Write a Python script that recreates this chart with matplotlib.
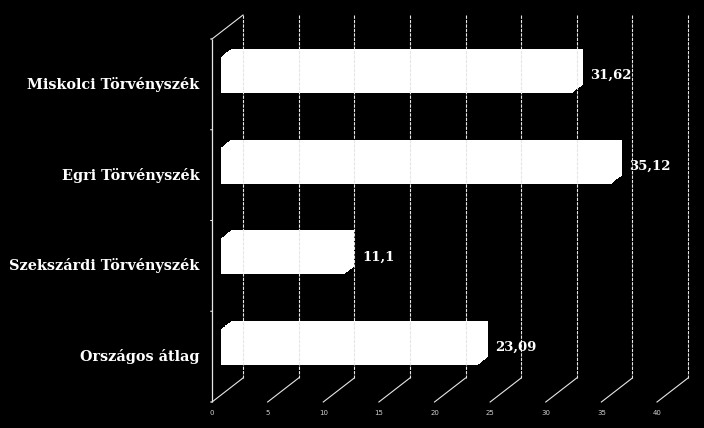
import numpy as np
import matplotlib
matplotlib.use('Agg')
import matplotlib.pyplot as plt
from matplotlib.transforms import ScaledTranslation

categories = ['Miskolci Törvényszék', 'Egri Törvényszék', 'Szekszárdi Törvényszék', 'Országos átlag']
values = [31.62, 35.12, 11.1, 23.09]
value_labels = ['31,62', '35,12', '11,1', '23,09']
ticks = [0, 5, 10, 15, 20, 25, 30, 35, 40]

W, H = 704, 428
fig = plt.figure(figsize=(W / 100, H / 100), dpi=100, facecolor='black')
# back wall of the 3d box
ax = fig.add_axes([243 / W, 1 - 378 / H, (688 - 243) / W, (378 - 15) / H])
ax.set_facecolor('black')
ax.set_xlim(0, 40)
ax.set_ylim(3.5, -0.5)
ax.axis('off')

# depth offset (pixels) from back wall to front plane
DX, DY = -31, -24


def depth(f):
    # transform for a plane at depth fraction f (0 = back, 1 = front)
    return ax.transData + ScaledTranslation(DX * f / 100, DY * f / 100, fig.dpi_scale_trans)


lc = '#e6e6e6'
y = np.arange(len(categories))

# back wall grid
ax.vlines(ticks, -0.5, 3.5, color=lc, lw=0.8, linestyle=(0, (3, 1)), clip_on=False)
# front left edge
ax.vlines([0], -0.5, 3.5, color=lc, lw=0.9, transform=depth(1), clip_on=False)
# floor + top diagonals
for t in ticks:
    p0 = ax.transData.transform((t, 3.5))
    p1 = depth(1).transform((t, 3.5))
    fig.lines.append(plt.Line2D([p0[0] / W, p1[0] / W], [p0[1] / H, p1[1] / H],
                                color=lc, lw=0.8, transform=fig.transFigure))
p0 = ax.transData.transform((0, -0.5))
p1 = depth(1).transform((0, -0.5))
fig.lines.append(plt.Line2D([p0[0] / W, p1[0] / W], [p0[1] / H, p1[1] / H],
                            color=lc, lw=0.8, transform=fig.transFigure))
# small ticks on the front left edge
for b in np.arange(-0.5, 4, 1):
    ax.annotate('', xy=(0, b), xycoords=depth(1), xytext=(-3, 0), textcoords='offset points',
                arrowprops=dict(arrowstyle='-', color=lc, lw=0.8))

# bars (swept through depth to get the 3d silhouette)
for f in np.linspace(0.39, 0.71, 12):
    ax.barh(y - 0.03, values, height=0.4, color='white', transform=depth(f), clip_on=False)

# value labels
for yi, v, lab in zip(y, values, value_labels):
    ax.annotate(lab, xy=(v, yi + 0.02), xycoords=depth(0.55), xytext=(9, 0),
                textcoords='offset points', ha='left', va='center',
                color='white', fontsize=9.5, fontweight='bold', family='DejaVu Serif')

# category labels on the front plane
for yi, c in zip(y, categories):
    ax.annotate(c, xy=(0, yi), xycoords=depth(1), xytext=(-9, 0),
                textcoords='offset points', ha='right', va='center',
                color='white', fontsize=10.4, fontweight='bold', family='DejaVu Serif')

# x tick labels on the front plane
for t in ticks:
    ax.annotate(str(t), xy=(t, 3.5), xycoords=depth(1), xytext=(0, -8),
                textcoords='offset points', ha='center', va='center',
                color='#d0d0d0', fontsize=5)

fig.savefig('out.png', dpi=100, facecolor='black')
